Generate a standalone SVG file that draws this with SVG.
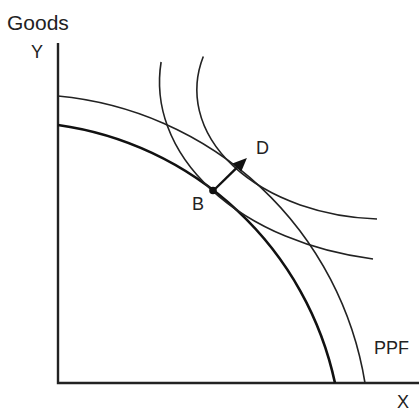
<svg xmlns="http://www.w3.org/2000/svg" width="419" height="411" viewBox="0 0 419 411">
<style>
.lbl{font-family:"Liberation Sans",Arial,sans-serif;font-size:18px;fill:#222}
.thin{fill:none;stroke:#222;stroke-width:1.6}
.thick{fill:none;stroke:#111;stroke-width:2.6}
.axis{fill:none;stroke:#222;stroke-width:2.4}
</style>
<defs>
<marker id="ah" markerWidth="14" markerHeight="12" refX="0" refY="6" orient="auto" markerUnits="userSpaceOnUse">
<path d="M0,0 L14,6 L0,12 Z" fill="#111"/>
</marker>
</defs>
<rect width="419" height="411" fill="#fff"/>
<g id="axes">
<path class="axis" d="M58,43 V383 H419"/>
</g>
<g id="curves">
<path id="ppf1" class="thick" d="M58,125 A330.3,330.3 0 0 1 335,383"/>
<path id="ppf2" class="thin" d="M58,96 A343.5,343.5 0 0 1 365,383"/>
<path id="ic1" class="thin" d="M161.1,62 A260.5,180 0 0 0 373,259"/>
<path id="ic2" class="thin" d="M203.3,56.5 A190,129.3 0 0 0 377,219"/>
</g>
<g id="connectors">
<path d="M213,191 L236.9,167.7" fill="none" stroke="#111" stroke-width="2.4" marker-end="url(#ah)"/>
<circle cx="213" cy="190.5" r="3.8" fill="#111"/>
</g>
<g id="labels">
<text class="lbl" x="7" y="30" style="font-size:21px">Goods</text>
<text class="lbl" x="31" y="58">Y</text>
<text class="lbl" x="192" y="210">B</text>
<text class="lbl" x="256" y="154">D</text>
<text class="lbl" x="374" y="354">PPF</text>
<text class="lbl" x="397" y="408">X</text>
</g>
</svg>
